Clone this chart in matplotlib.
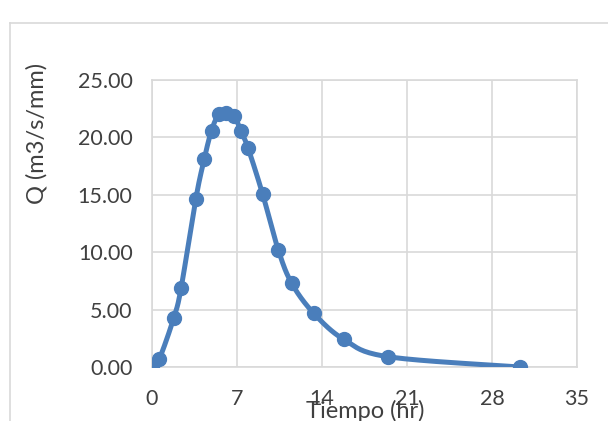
import matplotlib.pyplot as plt
import numpy as np
from matplotlib.lines import Line2D

# datos del hidrograma unitario
tiempo = [0.0, 0.6, 1.8, 2.4, 3.6, 4.3, 4.9, 5.5, 6.1, 6.75, 7.3, 7.9,
          9.1, 10.4, 11.5, 13.3, 15.8, 19.4, 30.3]
caudal = [0.0, 0.7, 4.3, 6.9, 14.6, 18.1, 20.6, 22.0, 22.1, 21.9, 20.6, 19.1,
          15.1, 10.2, 7.3, 4.7, 2.4, 0.9, 0.0]
xticks = [0, 7, 14, 21, 28, 35]
yticks = [0, 5, 10, 15, 20, 25]


def suavizar(x, y, n=20):
    # curva tipo Catmull-Rom (como la linea suavizada de Excel)
    p = np.column_stack([x, y])
    p = np.vstack([p[0], p, p[-1]])
    out = []
    for i in range(1, len(p) - 2):
        p0, p1, p2, p3 = p[i-1], p[i], p[i+1], p[i+2]
        t = np.linspace(0, 1, n)[:, None]
        c = 0.5 * ((2*p1) + (-p0 + p2)*t + (2*p0 - 5*p1 + 4*p2 - p3)*t**2
                   + (-p0 + 3*p1 - 3*p2 + p3)*t**3)
        out.append(c)
    c = np.vstack(out)
    return c[:, 0], c[:, 1]


plt.rcParams['font.family'] = ['Lato', 'DejaVu Sans']
color = '#4a7ebb'
gris = '#d9d9d9'

fig = plt.figure(figsize=(6.08, 4.21), dpi=100)
ax = fig.add_axes([152/608, 1-367/421, 425/608, 287/421])

xs, ys = suavizar(tiempo, caudal)
ax.plot(xs, ys, color=color, lw=3.6, solid_capstyle='round', zorder=3)
ax.plot(tiempo, caudal, 'o', color=color, ms=10, zorder=4)

ax.set_xlim(0, 35)
ax.set_ylim(0, 25)
ax.set_xticks(xticks)
ax.set_yticks(yticks)
ax.set_yticklabels(['%.2f' % v for v in yticks])
ax.grid(True, color=gris, lw=1.2)
ax.set_axisbelow(True)
for s in ax.spines.values():
    s.set_color(gris)
    s.set_linewidth(1.2)
ax.tick_params(length=0, labelsize=15.5, colors='#404040')
ax.tick_params(axis='x', pad=16)
ax.tick_params(axis='y', pad=14)
for lab in ax.get_xticklabels():
    lab.set_clip_on(False)

fig.text(37/608, 1-133/421, 'Q (m3/s/mm)', rotation=90, fontsize=17,
         color='#404040', ha='center', va='center')
fig.text(365/608, 1-411/421, 'Tiempo (hr)', fontsize=17, color='#404040',
         ha='center', va='center')

# marco exterior del grafico
fig.add_artist(Line2D([10/608, 10/608], [0, 1-23/421], color=gris, lw=1.2,
                      transform=fig.transFigure))
fig.add_artist(Line2D([10/608, 1], [1-23/421, 1-23/421], color=gris, lw=1.2,
                      transform=fig.transFigure))

fig.savefig('out.png', dpi=100)
